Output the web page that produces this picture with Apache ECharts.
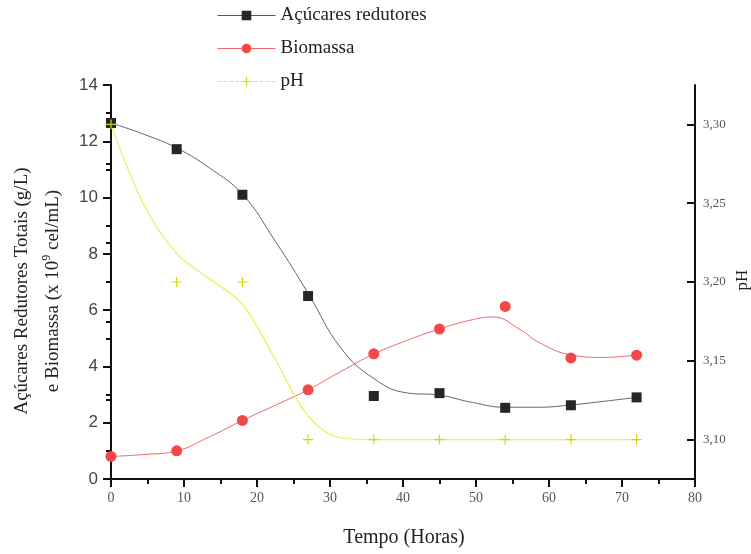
<!DOCTYPE html>
<html>
<head>
  <meta charset="utf-8">
  <title>Açúcares redutores, Biomassa e pH</title>
  <script src="https://cdn.jsdelivr.net/npm/echarts@6/dist/echarts.min.js"></script>
  <style>
    html, body { margin: 0; padding: 0; background: #fff; }
    #main { width: 751px; height: 554px; }
  </style>
</head>
<body>
<div id="main"></div>
<script type="text/javascript">
// pontos medidos
var horas = [0, 9, 18, 27, 36, 45, 54, 63, 72];
var acucares = [12.65, 11.72, 10.1, 6.5, 2.95, 3.05, 2.53, 2.62, 2.9];
var biomassa = [0.8, 1.0, 2.08, 3.17, 4.45, 5.33, 6.13, 4.3, 4.4];
var ph = [3.30, 3.20, 3.20, 3.10, 3.10, 3.10, 3.10, 3.10, 3.10];

// curvas ajustadas [hora, valor]
var curvaAcucares = [[0, 12.65], [4.5, 12.25], [9, 11.76], [13.5, 11.05], [18, 10.12], [22.5, 8.45],
  [27, 6.6], [31.5, 4.65], [36, 3.57], [40.5, 3.06], [45, 2.98],
  [49.5, 2.72], [54, 2.55], [58.5, 2.55], [63, 2.63], [67.5, 2.76], [72, 2.9]];
var curvaBiomassa = [[0, 0.8], [4.5, 0.87], [9, 1.0], [13.5, 1.5], [18, 2.08], [22.5, 2.62],
  [27, 3.17], [31.5, 3.82], [36, 4.44], [40.5, 4.92], [45, 5.33], [49.5, 5.66],
  [52.3, 5.76], [56.1, 5.3], [58.5, 4.87], [63, 4.41], [67.5, 4.32], [72, 4.41]];
var curvaPh = [[0, 3.30], [4.5, 3.249], [9, 3.218], [13.5, 3.202], [18, 3.186],
  [22.5, 3.151], [27, 3.115], [31.5, 3.101], [36, 3.100], [40.5, 3.100], [45, 3.100],
  [54, 3.100], [63, 3.100], [72, 3.100]];

// eixos
var xTicks = [0, 80, 10];
var phMajor = [3.10, 3.15, 3.20, 3.25, 3.30];
var phMinor = [3.125, 3.175, 3.225, 3.275];

var serif = 'Liberation Serif';
var plusPath = 'path://M4.4,0H5.6V4.4H10V5.6H5.6V10H4.4V5.6H0V4.4H4.4Z';

var myChart = echarts.init(document.getElementById('main'));

function pares(xs, ys) {
  return xs.map(function (x, i) { return [x, ys[i]]; });
}

var option = {
  backgroundColor: '#fff',
  animation: false,
  grid: { left: 111, right: 56, top: 85, bottom: 75 },
  legend: {
    orient: 'vertical',
    left: 212,
    top: 1,
    itemWidth: 58,
    itemHeight: 12,
    itemGap: 14,
    textStyle: { fontFamily: serif, fontSize: 19, color: '#222' },
    data: [
      { name: 'Açúcares redutores', lineStyle: { color: '#555', width: 1, opacity: 1, type: 'solid' } },
      { name: 'Biomassa', lineStyle: { color: '#f06a6a', width: 1, opacity: 1, type: 'solid' } },
      { name: 'pH', lineStyle: { color: '#e8e840', width: 1, opacity: 1, type: 'dashed' } }
    ]
  },
  xAxis: {
    type: 'value',
    min: xTicks[0], max: xTicks[1], interval: xTicks[2],
    axisLine: { onZero: false, lineStyle: { color: '#111', width: 2 } },
    axisTick: { inside: false, length: 8, lineStyle: { color: '#111', width: 2 } },
    minorTick: { show: true, splitNumber: 2, length: 5, lineStyle: { color: '#111', width: 2 } },
    axisLabel: { fontFamily: serif, fontSize: 14, color: '#555', margin: 12 },
    splitLine: { show: false }
  },
  yAxis: [
    {
      type: 'value',
      min: 0, max: 14, interval: 2,
      axisLine: { show: true, onZero: false, lineStyle: { color: '#111', width: 2 } },
      axisTick: { show: true, inside: false, length: 8, lineStyle: { color: '#111', width: 2 } },
      minorTick: { show: true, splitNumber: 2, length: 5, lineStyle: { color: '#111', width: 2 } },
      axisLabel: { fontFamily: 'Liberation Sans', fontSize: 17, color: '#444', margin: 13 },
      splitLine: { show: false }
    },
    {
      type: 'value',
      position: 'right',
      min: 3.075, max: 3.325,
      axisLine: { show: true, onZero: false, lineStyle: { color: '#111', width: 2 } },
      axisTick: { show: true, inside: true, length: 8, customValues: phMajor, lineStyle: { color: '#111', width: 2 } },
      axisLabel: {
        fontFamily: serif, fontSize: 13, color: '#555', margin: 8,
        customValues: phMajor,
        formatter: function (v) { return v.toFixed(2).replace('.', ','); }
      },
      splitLine: { show: false }
    },
    {
      // ticks menores do eixo pH
      type: 'value',
      position: 'right',
      min: 3.075, max: 3.325,
      axisLine: { show: false },
      axisTick: { show: true, inside: true, length: 5, customValues: phMinor, lineStyle: { color: '#111', width: 2 } },
      axisLabel: { show: false },
      splitLine: { show: false }
    }
  ],
  graphic: [
    {
      type: 'text', x: 22, y: 291, rotation: Math.PI / 2,
      style: {
        text: 'Açúcares Redutores Totais (g/L)',
        font: '19px "Liberation Serif"', fill: '#222',
        align: 'center', verticalAlign: 'middle'
      }
    },
    {
      type: 'text', x: 52, y: 291, rotation: Math.PI / 2,
      style: {
        text: '{n|e Biomassa (x 10}{s|9}{n| cel/mL)}',
        align: 'center', verticalAlign: 'middle',
        rich: {
          n: { fontFamily: serif, fontSize: 19, fill: '#222', verticalAlign: 'bottom', lineHeight: 22 },
          s: { fontFamily: serif, fontSize: 12, fill: '#222', verticalAlign: 'top', lineHeight: 22 }
        }
      }
    },
    {
      type: 'text', x: 404, y: 538,
      style: {
        text: 'Tempo (Horas)',
        font: '20px "Liberation Serif"', fill: '#222',
        align: 'center', verticalAlign: 'middle'
      }
    },
    {
      type: 'text', x: 743, y: 280, rotation: Math.PI / 2,
      style: {
        text: 'pH',
        font: '17px "Liberation Serif"', fill: '#222',
        align: 'center', verticalAlign: 'middle'
      }
    }
  ],
  series: [
    {
      name: 'curvaAcucares', type: 'line', smooth: 0.45, showSymbol: false, silent: true,
      data: curvaAcucares, lineStyle: { color: '#666', width: 1 }, z: 2
    },
    {
      name: 'curvaBiomassa', type: 'line', smooth: 0.45, showSymbol: false, silent: true,
      data: curvaBiomassa, lineStyle: { color: '#f06a6a', width: 1 }, z: 2
    },
    {
      name: 'curvaPh', type: 'line', yAxisIndex: 1, smooth: 0.35, showSymbol: false, silent: true,
      data: curvaPh, lineStyle: { color: '#eeee55', width: 1.2 }, z: 2
    },
    {
      name: 'Açúcares redutores', type: 'line', data: pares(horas, acucares),
      symbol: 'rect', symbolSize: 10,
      itemStyle: { color: '#262626' },
      lineStyle: { width: 0, opacity: 0 }, z: 5
    },
    {
      name: 'Biomassa', type: 'line', data: pares(horas, biomassa),
      symbol: 'circle', symbolSize: 11,
      itemStyle: { color: '#f24848' },
      lineStyle: { width: 0, opacity: 0 }, z: 5
    },
    {
      name: 'pH', type: 'line', yAxisIndex: 1, data: pares(horas, ph),
      symbol: plusPath, symbolSize: 10,
      itemStyle: { color: '#d6d600' },
      lineStyle: { width: 0, opacity: 0 }, z: 5
    }
  ]
};

myChart.setOption(option);
</script>
</body>
</html>
